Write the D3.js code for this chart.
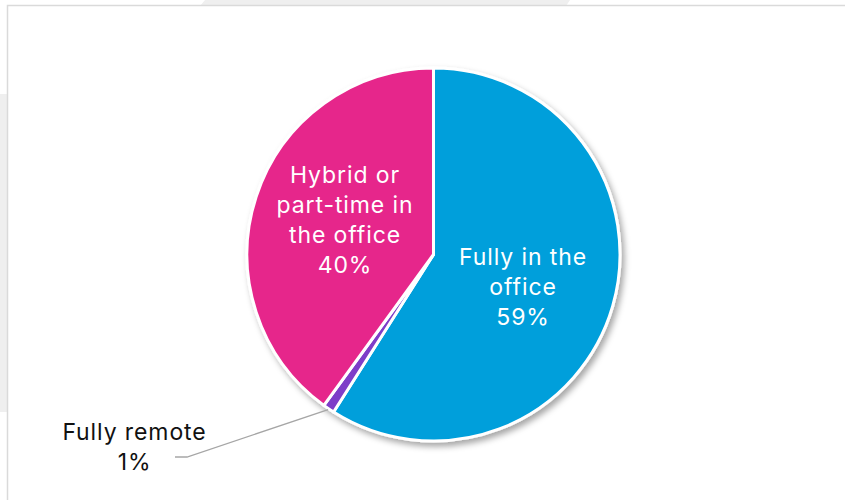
<!DOCTYPE html>
<html>
<head>
<meta charset="utf-8">
<script src="https://cdn.jsdelivr.net/npm/d3@7"></script>
<style>
  html, body { margin: 0; padding: 0; background: #ffffff; }
  svg { display: block; }
  text { font-family: Inter, "Open Sans", sans-serif; letter-spacing: 0.9px; }
</style>
</head>
<body>
<svg id="chart" width="845" height="500"></svg>
<script>
// Work arrangement shares
const categories = ["Fully in the office", "Fully remote", "Hybrid or part-time in the office"];
const labelLines = [["Fully in the", "office"], ["Fully remote"], ["Hybrid or", "part-time in", "the office"]];
const shares = [59, 1, 40];
const colors = ["#009fdb", "#7e3cc8", "#e6288b"];

const W = 845, H = 500;
const cx = 433.5, cy = 254.5, R = 186.5;
const fontSize = 23, lineH = 30;

const svg = d3.select("#chart");

// backdrop: faint page shapes behind the white card
svg.append("rect").attr("x", 0).attr("y", 94).attr("width", 8).attr("height", 318).attr("fill", "#efefef");
svg.append("path").attr("d", "M200,6 L205,0 L570,0 L566,6 Z").attr("fill", "#efefef");
svg.append("rect").attr("x", 7.5).attr("y", 5.5).attr("width", W).attr("height", H)
  .attr("fill", "#ffffff").attr("stroke", "#dadada").attr("stroke-width", 1.5);

const defs = svg.append("defs");
const f = defs.append("filter").attr("id", "shadow")
  .attr("x", "-20%").attr("y", "-20%").attr("width", "140%").attr("height", "140%");
f.append("feDropShadow").attr("dx", 3).attr("dy", 4).attr("stdDeviation", 3)
  .attr("flood-color", "#000").attr("flood-opacity", 0.35);

const data = categories.map((c, i) => ({ name: c, value: shares[i], color: colors[i], lines: labelLines[i] }));

const pie = d3.pie().value(d => d.value).sort(null);
const arcs = pie(data);
const arc = d3.arc().innerRadius(0).outerRadius(R);
const edgeArc = d3.arc().innerRadius(R + 1).outerRadius(R + 1);

// label anchor: slightly past the slice's mid angle, about half-way out
const labelShift = 3.5 * Math.PI / 180;
const labelR = R * 0.51;
function labelPoint(d) {
  const a = (d.startAngle + d.endAngle) / 2 + labelShift;
  return [labelR * Math.sin(a), -labelR * Math.cos(a)];
}

const g = svg.append("g").attr("transform", `translate(${cx},${cy})`);

g.append("g").attr("filter", "url(#shadow)")
  .selectAll("path").data(arcs).join("path")
  .attr("d", arc)
  .attr("fill", d => d.data.color)
  .attr("stroke", "#ffffff")
  .attr("stroke-width", 3)
  .attr("stroke-linejoin", "round");

// inside labels for the larger slices
arcs.filter(d => d.data.value >= 5).forEach(d => {
  const [x, y] = labelPoint(d);
  const lines = d.data.lines.concat([d.data.value + "%"]);
  const t = g.append("text")
    .attr("text-anchor", "middle")
    .attr("fill", "#ffffff")
    .attr("font-size", fontSize);
  const y0 = y - (lines.length - 1) * lineH / 2 + fontSize * 0.36;
  lines.forEach((s, i) => {
    t.append("tspan").attr("x", x).attr("y", y0 + i * lineH).text(s);
  });
});

// outside label with leader line for the small slice
arcs.filter(d => d.data.value < 5).forEach(d => {
  const p0 = edgeArc.centroid(d);
  const elbow = [187 - cx, 457 - cy];
  const end = [175 - cx, 457 - cy];
  g.append("polyline")
    .attr("points", [p0, elbow, end].map(p => p.join(",")).join(" "))
    .attr("fill", "none")
    .attr("stroke", "#a6a6a6")
    .attr("stroke-width", 1.3);
  const lx = 134.5 - cx;
  const lines = d.data.lines.concat([d.data.value + "%"]);
  const t = g.append("text")
    .attr("text-anchor", "middle")
    .attr("fill", "#111111")
    .attr("font-size", fontSize);
  lines.forEach((s, i) => {
    t.append("tspan").attr("x", lx).attr("y", 440 - cy + i * lineH).text(s);
  });
});
</script>
</body>
</html>
